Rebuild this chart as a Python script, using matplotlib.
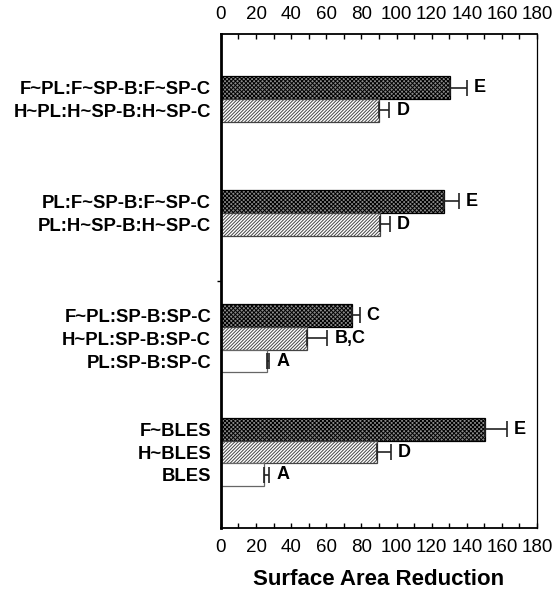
import numpy as np
import matplotlib.pyplot as plt
from matplotlib.ticker import MultipleLocator

plt.rcParams['font.family'] = ['Liberation Sans', 'DejaVu Sans']
plt.rcParams['hatch.linewidth'] = 0.7

# groups listed top to bottom
group1 = ["F~PL:F~SP-B:F~SP-C", "H~PL:H~SP-B:H~SP-C"]
group2 = ["PL:F~SP-B:F~SP-C", "PL:H~SP-B:H~SP-C"]
group3 = ["F~PL:SP-B:SP-C", "H~PL:SP-B:SP-C", "PL:SP-B:SP-C"]
group4 = ["F~BLES", "H~BLES", "BLES"]

vals1 = [130.4, 90.3]
vals2 = [127.0, 90.5]
vals3 = [74.4, 49.2, 26.4]
vals4 = [150.3, 88.7, 24.5]

errs1 = [9.6, 5.6]
errs2 = [8.7, 5.7]
errs3 = [4.6, 11.5, 1.2]
errs4 = [12.7, 7.9, 3.0]

sig1 = ["E", "D"]
sig2 = ["E", "D"]
sig3 = ["C", "B,C", "A"]
sig4 = ["E", "D", "A"]

# fill kind per bar: 0 = cross-hatched (F~), 1 = diagonal (H~), 2 = plain
kind1 = [0, 1]
kind2 = [0, 1]
kind3 = [0, 1, 2]
kind4 = [0, 1, 2]

groups = [(group1, vals1, errs1, sig1, kind1),
          (group2, vals2, errs2, sig2, kind2),
          (group3, vals3, errs3, sig3, kind3),
          (group4, vals4, errs4, sig4, kind4)]

styles = {
    0: dict(facecolor="#8a8a8a", hatch="xxxxxxxx", edgecolor="black"),
    1: dict(facecolor="white", hatch="//////////", edgecolor="#444444"),
    2: dict(facecolor="white", hatch=None, edgecolor="#666666"),
}

fig = plt.figure(figsize=(5.55, 5.89), dpi=100)
ax = fig.add_axes([0.398, 0.1036, 0.5696, 0.8387])

pitch = 4.98
first = 1.84
labels, centers = [], []
for gi, (names, vals, errs, sigs, kinds) in enumerate(groups):
    for bi, (name, v, e, s, k) in enumerate(zip(names, vals, errs, sigs, kinds)):
        yc = first + gi * pitch + bi + 0.5
        st = styles[k]
        ax.barh(yc, v, height=1.0, facecolor=st["facecolor"], hatch=st["hatch"],
                edgecolor=st["edgecolor"], linewidth=0.9, zorder=2)
        ax.errorbar(v, yc, xerr=[[0], [e]], fmt="none", ecolor="#222222",
                    elinewidth=1.2, capsize=5.5, capthick=1.2, zorder=3)
        ax.annotate(s, (v + e, yc), xytext=(5, 0), textcoords="offset points",
                    ha="left", va="center", fontsize=13, fontweight="bold")
        labels.append(name)
        centers.append(yc)

ax.set_xlim(0, 180)
ax.set_ylim(21.6, 0)
ax.set_yticks(centers)
ax.set_yticklabels(labels, fontsize=13.3, fontweight="bold")
ax.tick_params(axis="y", length=0, pad=7)
ax.set_yticks([first + 2 * pitch - 1], minor=True)
ax.tick_params(axis="y", which="minor", length=3, direction="out", width=1)

ax.xaxis.set_major_locator(MultipleLocator(20))
ax.xaxis.set_minor_locator(MultipleLocator(10))
ax.tick_params(axis="x", which="both", direction="in", length=3.5, width=1,
               top=True, labeltop=True, labelsize=13.5, pad=8)
ax.set_xlabel("Surface Area Reduction", fontsize=16, fontweight="bold", labelpad=9)

ax.spines["left"].set_linewidth(2)
ax.spines["bottom"].set_linewidth(1.3)
ax.spines["top"].set_linewidth(1.3)
ax.spines["right"].set_linewidth(0.9)

fig.savefig("out.png", dpi=100)
